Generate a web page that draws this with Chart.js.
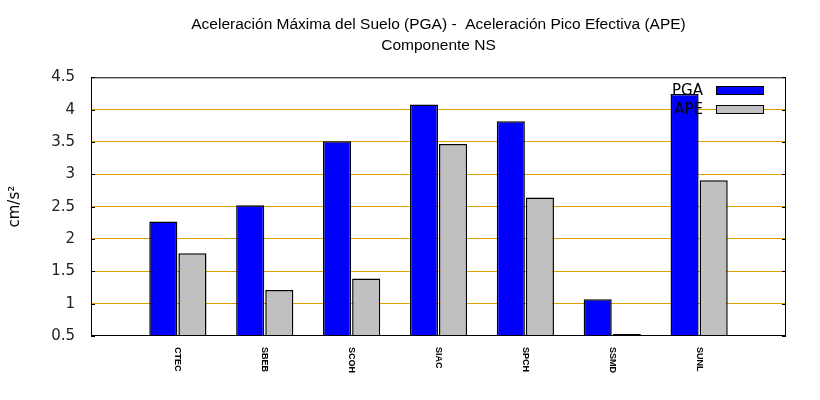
<!DOCTYPE html>
<html>
<head>
<meta charset="utf-8">
<script src="https://cdn.jsdelivr.net/npm/chart.js@4/dist/chart.umd.min.js"></script>
<style>
  html, body { margin: 0; padding: 0; background: #fff; }
  #wrap { width: 820px; height: 400px; }
</style>
</head>
<body>
<div id="wrap"><canvas id="pgaChart" width="820" height="400"></canvas></div>
<script>
const stations = ['CTEC', 'SBEB', 'SCOH', 'SIAC', 'SPCH', 'SSMD', 'SUNL'];
const pga = [2.27, 2.52, 3.51, 4.08, 3.82, 1.07, 4.24];
const ape = [1.78, 1.21, 1.39, 3.47, 2.64, 0.53, 2.91];
const yTicks = [0.5, 1, 1.5, 2, 2.5, 3, 3.5, 4, 4.5];

// one empty slot on each side, like the original
const labels = [''].concat(stations, ['']);
const pad = arr => [null].concat(arr, [null]);

const gridOrange = '#e0a000';

// frame, inward ticks, rotated station names and legend
const decor = {
  id: 'decor',
  afterDatasetsDraw(chart) {
    const { ctx, chartArea: a, scales } = chart;
    const y = scales.y, x = scales.x;
    ctx.save();
    ctx.strokeStyle = '#000';
    ctx.lineWidth = 1;
    ctx.strokeRect(a.left + 0.5, a.top + 0.5, a.right - a.left - 1, a.bottom - a.top - 1);
    yTicks.forEach(v => {
      const py = Math.round(y.getPixelForValue(v)) + 0.5;
      ctx.beginPath();
      ctx.moveTo(a.left, py); ctx.lineTo(a.left + 4, py);
      ctx.moveTo(a.right - 4, py); ctx.lineTo(a.right, py);
      ctx.stroke();
    });

    ctx.fillStyle = '#000';
    ctx.font = 'bold 9px "Liberation Sans", Arial, sans-serif';
    ctx.textAlign = 'left';
    ctx.textBaseline = 'middle';
    stations.forEach((s, i) => {
      const px = x.getPixelForValue(i + 1);
      ctx.save();
      ctx.translate(px, a.bottom + 11);
      ctx.rotate(Math.PI / 2);
      ctx.fillText(s, 0, 0);
      ctx.restore();
    });

    ctx.font = '15px "DejaVu Sans", sans-serif';
    ctx.textAlign = 'right';
    chart.data.datasets.forEach((ds, i) => {
      const cy = 91 + i * 19;
      ctx.fillStyle = '#000';
      ctx.fillText(ds.label, 703, cy);
      ctx.fillStyle = ds.backgroundColor;
      ctx.fillRect(716.5, cy - 4.5, 47, 8);
      ctx.strokeRect(716.5, cy - 4.5, 47, 8);
    });
    ctx.restore();
  }
};

new Chart(document.getElementById('pgaChart'), {
  type: 'bar',
  data: {
    labels: labels,
    datasets: [
      { label: 'PGA', data: pad(pga), backgroundColor: '#0000ff', borderColor: '#000', borderWidth: 1.5 },
      { label: 'APE', data: pad(ape), backgroundColor: '#c0c0c0', borderColor: '#000', borderWidth: 1.5 }
    ]
  },
  options: {
    responsive: false,
    animation: false,
    devicePixelRatio: 1,
    layout: { padding: { left: 0, right: 34, top: 0, bottom: 0 } },
    datasets: { bar: { categoryPercentage: 0.67, barPercentage: 0.965 } },
    plugins: {
      legend: { display: false },
      tooltip: { enabled: false },
      title: {
        display: true,
        fullSize: false,
        text: ['Aceleración Máxima del Suelo (PGA) -  Aceleración Pico Efectiva (APE)', 'Componente NS'],
        color: '#000',
        font: { family: '"Liberation Sans", Arial, sans-serif', size: 15.5, weight: 'normal', lineHeight: 1.3 },
        padding: { top: 15, bottom: 22 }
      }
    },
    scales: {
      x: {
        offset: false,
        grid: { display: false },
        border: { display: false },
        ticks: { display: false },
        afterFit: s => { s.height = 64; }
      },
      y: {
        min: 0.5,
        max: 4.5,
        afterBuildTicks: s => { s.ticks = yTicks.map(v => ({ value: v })); },
        ticks: {
          color: '#222',
          padding: 16,
          font: { family: '"DejaVu Sans", sans-serif', size: 15 },
          callback: v => String(+v.toFixed(1))
        },
        grid: {
          color: c => (c.tick && (c.tick.value === 0.5 || c.tick.value === 4.5)) ? 'rgba(0,0,0,0)' : gridOrange,
          lineWidth: 1,
          drawTicks: false
        },
        border: { display: false },
        title: {
          display: true,
          text: 'cm/s²',
          color: '#000',
          font: { family: '"DejaVu Sans", sans-serif', size: 15 },
          padding: { top: 6, bottom: 0 }
        },
        afterFit: s => { s.width = 91; }
      }
    }
  },
  plugins: [decor]
});
</script>
</body>
</html>
